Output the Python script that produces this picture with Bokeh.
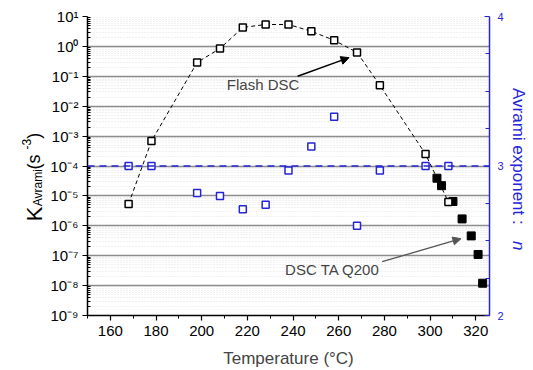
import math
from bokeh.plotting import figure
from bokeh.layouts import row
from bokeh.models import (Range1d, LinearAxis, LinearScale, FixedTicker, CustomJSTickFormatter,
                          Span, Arrow, NormalHead, Label)
from bokeh.core.properties import value
from bokeh.embed import file_html
from bokeh.resources import INLINE

# ---------------- data ----------------
flash_T = [168, 178, 198, 208, 218, 228, 238, 248, 258, 268, 278, 298, 308]
flash_K = [5.4e-6, 6.8e-4, 0.29, 0.85, 4.3, 5.4, 5.4, 3.2, 1.6, 0.63, 0.05, 2.5e-4, 6.3e-6]

dsc_T = [303, 305, 310, 314, 318, 321, 323]
dsc_K = [3.9e-5, 2.2e-5, 6.5e-6, 1.7e-6, 4.6e-7, 1.1e-7, 1.2e-8]

avrami_T = [168, 178, 198, 208, 218, 228, 238, 248, 258, 268, 278, 298, 308]
avrami_n = [3.0, 3.0, 2.82, 2.80, 2.71, 2.74, 2.97, 3.13, 3.33, 2.60, 2.97, 3.0, 3.0]

x_ticks = [160, 180, 200, 220, 240, 260, 280, 300, 320]
x_minor = [150, 170, 190, 210, 230, 250, 270, 290, 310]
y_exponents = list(range(-9, 2))
n_ticks = [2, 3, 4]
n_minor = [2.25, 2.5, 2.75, 3.25, 3.5, 3.75]
n_ref = 3

BLUE = "#2424d8"
FONT = "Liberation Sans"
H = 370
TOP, BOTTOM = 16, 53          # frame borders (page px), shared by all three panels
LEFT_W, RIGHT_W = 46, 27
MAIN_W = 533 - LEFT_W - RIGHT_W

X0, X1 = 150, 326
Y0, Y1 = 1e-9, 1e1

p = figure(width=MAIN_W, height=H, x_range=Range1d(X0, X1), y_range=Range1d(Y0, Y1),
           y_axis_type="log", output_backend="svg", toolbar_location=None,
           min_border_left=87 - LEFT_W, min_border_right=16, min_border_top=TOP,
           min_border_bottom=BOTTOM)
p.outline_line_color = None
p.background_fill_color = "white"

# ---------------- axes ----------------
decades = [10.0 ** e for e in y_exponents]
minors = [k * 10.0 ** e for e in y_exponents[:-1] for k in range(2, 10)]
p.yaxis.ticker = FixedTicker(ticks=decades, minor_ticks=minors)
p.yaxis.formatter = CustomJSTickFormatter(code="""
const sup = {'-':'\u207b','0':'\u2070','1':'\u00b9','2':'\u00b2','3':'\u00b3','4':'\u2074',
             '5':'\u2075','6':'\u2076','7':'\u2077','8':'\u2078','9':'\u2079'};
const e = Math.round(Math.log10(tick));
return '10' + String(e).split('').map(c => sup[c]).join('');
""")
p.xaxis.ticker = FixedTicker(ticks=x_ticks, minor_ticks=x_minor)

for ax in (p.xaxis[0], p.yaxis[0]):
    ax.axis_line_width = 1.5
    ax.axis_line_color = "black"
    ax.major_tick_line_color = "black"
    ax.minor_tick_line_color = "black"
    ax.major_tick_line_width = 1.2
    ax.major_label_text_font = FONT
    ax.major_label_text_font_size = "15px"
    ax.major_label_text_color = "black"
    ax.major_tick_out = 5
    ax.major_tick_in = 0
    ax.minor_tick_out = 0
    ax.minor_tick_in = 3

p.xaxis.minor_tick_out = 3
p.xaxis.minor_tick_in = 0
p.xaxis.major_label_standoff = 5
p.xaxis.axis_label = "Temperature (\u00b0C)"
p.xaxis.axis_label_text_font = FONT
p.xaxis.axis_label_text_font_size = "17px"
p.xaxis.axis_label_text_font_style = "normal"
p.xaxis.axis_label_standoff = 10
p.yaxis.major_label_standoff = 4

p.extra_y_ranges = {"n": Range1d(2, 4)}
p.extra_y_scales = {"n": LinearScale()}
rax = LinearAxis(y_range_name="n", ticker=FixedTicker(ticks=n_ticks, minor_ticks=n_minor))
rax.axis_line_color = BLUE
rax.axis_line_width = 1.5
rax.major_tick_line_color = BLUE
rax.minor_tick_line_color = BLUE
rax.major_tick_in = 5
rax.major_tick_out = 0
rax.minor_tick_in = 4
rax.minor_tick_out = 0
rax.major_label_text_color = BLUE
rax.major_label_text_font = FONT
rax.major_label_text_font_size = "11px"
rax.major_label_standoff = 8
p.add_layout(rax, "right")

# ---------------- grid ----------------
p.xgrid.grid_line_color = None
p.ygrid.ticker = FixedTicker(ticks=decades[1:-1], minor_ticks=minors)
p.ygrid.grid_line_color = "#8c8c8c"
p.ygrid.grid_line_width = 1.3
p.ygrid.minor_grid_line_color = "#e3e3e3"
p.ygrid.minor_grid_line_dash = "1 2"
p.ygrid.minor_grid_line_width = 1

# ---------------- data marks ----------------
p.add_layout(Span(location=n_ref, dimension="width", y_range_name="n",
                  line_color=BLUE, line_dash="7 5", line_width=1.5))
p.line(flash_T, flash_K, line_color="black", line_dash="4 3", line_width=1)
p.scatter(dsc_T, dsc_K, marker="square", size=8, fill_color="black", line_color="black")
p.scatter(flash_T, flash_K, marker="square", size=7, fill_color="white",
          line_color="black", line_width=1.5)
p.scatter(avrami_T, avrami_n, y_range_name="n", marker="square", size=7,
          fill_color="white", line_color=BLUE, line_width=1.5)

# ---------------- annotations ----------------
p.add_layout(Label(x=211, y=0.054, text="Flash DSC", text_font=FONT,
                   text_font_size="15px", text_baseline="middle"))
p.add_layout(Arrow(end=NormalHead(size=8, fill_color="black", line_color="black"),
                   x_start=242, y_start=0.1, x_end=264.5, y_end=0.42,
                   line_color="black", line_width=1.5))
p.add_layout(Label(x=236.5, y=3.4e-8, text="DSC TA Q200", text_font=FONT,
                   text_font_size="15px", text_baseline="middle"))
p.add_layout(Arrow(end=NormalHead(size=8, fill_color="#555555", line_color="#555555"),
                   x_start=279, y_start=6.3e-8, x_end=313.5, y_end=3.7e-7,
                   line_color="#555555", line_width=1.3))

# ---------------- side strips carrying the axis titles ----------------
# their frames are aligned with the main frame, so use page-pixel ranges over it
def strip(w):
    f = figure(width=w, height=H, x_range=Range1d(0, w), y_range=Range1d(H - BOTTOM, TOP),
               output_backend="svg", toolbar_location=None,
               min_border_left=0, min_border_right=0, min_border_top=TOP,
               min_border_bottom=BOTTOM, x_axis_location=None, y_axis_location=None)
    f.grid.grid_line_color = None
    f.outline_line_color = None
    return f

left = strip(LEFT_W)
# K_Avrami (s^-3), reading bottom to top
ylab_parts = [("K", 34, 222, "22px"), ("Avrami", 37, 207, "12px"),
              (" (s", 33, 170, "18px"), ("-3", 26, 150, "12px"), (")", 33, 139, "18px")]
for txt, xx, yy, fs in ylab_parts:
    left.text(x=[xx], y=[yy], text=[txt], angle=math.pi / 2, text_font=value(FONT),
              text_font_size=fs, text_align="left", text_baseline="alphabetic",
              text_color="black")

right = strip(RIGHT_W)
right.text(x=[12], y=[88], text=["Avrami exponent : "], angle=-math.pi / 2,
           text_font=value(FONT), text_font_size="17px", text_align="left",
           text_baseline="middle", text_color=BLUE)
right.text(x=[12], y=[242], text=["n"], angle=-math.pi / 2,
           text_font=value(FONT), text_font_size="17px", text_align="left",
           text_baseline="middle", text_color=BLUE, text_font_style="italic")

layout = row(left, p, right)
open("out.html", "w").write(file_html(layout, INLINE))
